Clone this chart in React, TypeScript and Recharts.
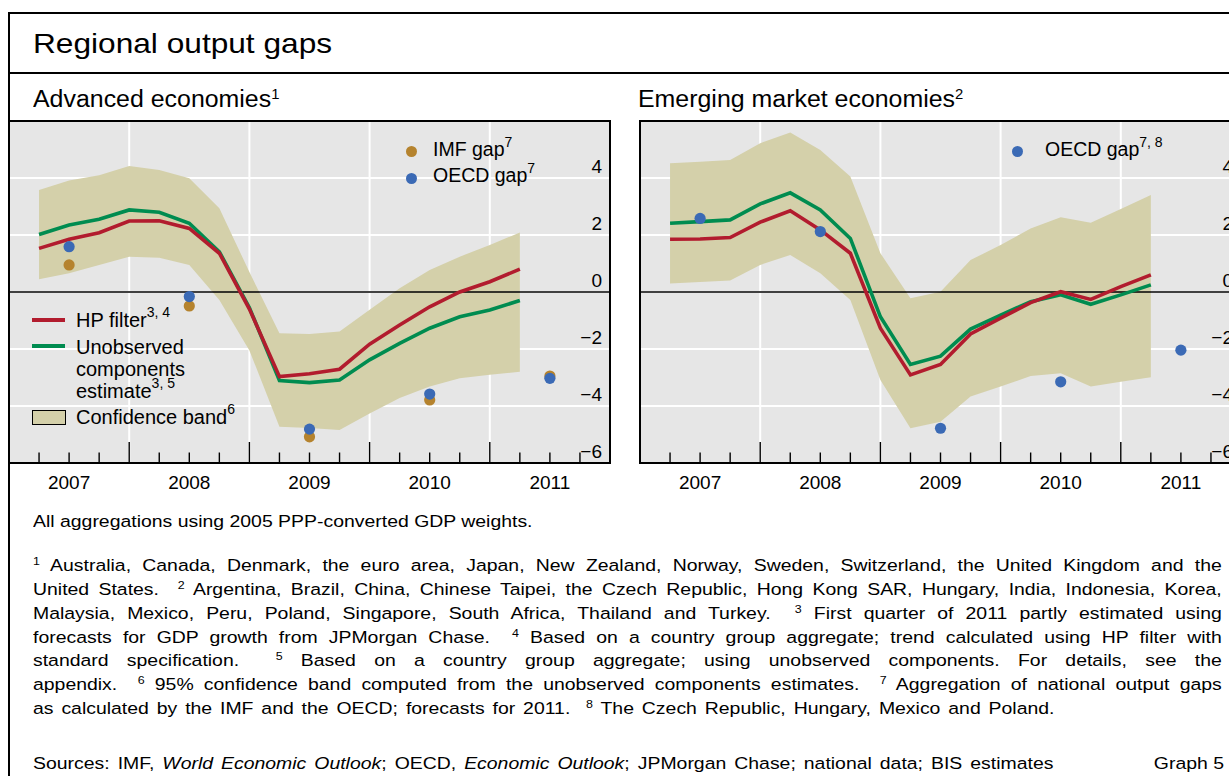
import React from "react";
import {
  ComposedChart,
  Area,
  Line,
  Scatter,
  XAxis,
  YAxis,
  CartesianGrid,
  ReferenceLine,
} from "recharts";

// ---------------- data ----------------
const quarters = [
  "2007Q1", "2007Q2", "2007Q3", "2007Q4",
  "2008Q1", "2008Q2", "2008Q3", "2008Q4",
  "2009Q1", "2009Q2", "2009Q3", "2009Q4",
  "2010Q1", "2010Q2", "2010Q3", "2010Q4",
  "2011Q1",
];
const years = [2007, 2008, 2009, 2010, 2011];

// Advanced economies
const aeHpFilter = [1.53, 1.85, 2.08, 2.49, 2.5, 2.23, 1.36, -0.6, -2.97, -2.87, -2.71, -1.83, -1.16, -0.52, 0.0, 0.36, 0.8];
const aeUnobserved = [2.02, 2.35, 2.55, 2.88, 2.8, 2.41, 1.41, -0.55, -3.11, -3.18, -3.09, -2.38, -1.8, -1.27, -0.87, -0.63, -0.3];
const aeBandLow = [0.45, 0.66, 0.95, 1.24, 1.2, 0.95, -0.28, -2.05, -4.73, -4.77, -4.84, -4.26, -3.72, -3.32, -3.03, -2.9, -2.8];
const aeBandHigh = [3.58, 3.91, 4.1, 4.42, 4.28, 3.99, 2.94, 0.7, -1.45, -1.47, -1.39, -0.62, 0.13, 0.77, 1.24, 1.65, 2.09];
const aeImfGap = [0.95, -0.49, -5.08, -3.79, -2.95];
const aeOecdGap = [1.59, -0.16, -4.81, -3.58, -3.03];

// Emerging market economies
const emeHpFilter = [1.85, 1.86, 1.91, 2.45, 2.85, 2.18, 1.36, -1.27, -2.91, -2.54, -1.47, -0.92, -0.37, 0.01, -0.26, 0.19, 0.6];
const emeUnobserved = [2.41, 2.47, 2.53, 3.09, 3.48, 2.88, 1.88, -0.87, -2.54, -2.25, -1.3, -0.81, -0.34, -0.1, -0.43, -0.1, 0.25];
const emeBandLow = [0.3, 0.35, 0.4, 0.95, 1.3, 0.66, -0.28, -3.09, -4.78, -4.55, -3.67, -3.32, -2.95, -2.85, -3.32, -3.15, -2.99];
const emeBandHigh = [4.52, 4.57, 4.63, 5.22, 5.6, 4.98, 4.05, 1.36, -0.22, 0.01, 1.12, 1.65, 2.23, 2.62, 2.43, 2.91, 3.4];
const emeOecdGap = [2.58, 2.12, -4.78, -3.15, -2.04];

const yTicks = [-6, -4, -2, 0, 2, 4];
const xDomain = [2007, 2012];

// ---------------- helpers ----------------
const toTime = (q: string) => Number(q.slice(0, 4)) + Number(q.slice(5)) / 4;
const xTicks = years.flatMap((y) => [y + 0.25, y + 0.5, y + 0.75, y + 1]).filter((v) => v < xDomain[1]);
const yearBoundaries = years.slice(1);

const buildRows = (hp: number[], uc: number[], lo: number[], hi: number[]) =>
  quarters.map((q, i) => ({ t: toTime(q), hp: hp[i], uc: uc[i], band: [lo[i], hi[i]] }));
const buildDots = (vals: number[]) => years.map((y, i) => ({ t: y + 0.5, v: vals[i] }));

const aeRows = buildRows(aeHpFilter, aeUnobserved, aeBandLow, aeBandHigh);
const emeRows = buildRows(emeHpFilter, emeUnobserved, emeBandLow, emeBandHigh);

// ---------------- styles ----------------
const FONT = '"Liberation Sans", Arial, Helvetica, sans-serif';
const GRID_BG = "#e6e6e6";
const BAND = "#d4d0aa";
const RED = "#b21c2e";
const GREEN = "#008c50";
const BLUE = "#3b6ab5";
const BROWN = "#b5832e";
const S = 1.13; // horizontal stretch of title / footnote text in the reference

const PLOT_W = 601;
const PLOT_H = 342;
const AXIS_H = 34;

const fmt = (v: number) => (v < 0 ? "\u2212" + Math.abs(v) : String(v));

const XTick = (props: any) => {
  const { x, y, payload } = props;
  const v = payload.value as number;
  const q = Math.round((v - Math.floor(v)) * 4);
  const len = q === 0 ? 21 : 10.5;
  return (
    <g>
      <line x1={x} x2={x} y1={y} y2={y - len} stroke="#000" strokeWidth={1.4} />
      {q === 2 && (
        <text x={x} y={y + 26} textAnchor="middle" fontSize={19} fontFamily={FONT} fill="#000">
          {Math.floor(v)}
        </text>
      )}
    </g>
  );
};

const YTick = (props: any) => {
  const { x, y, payload } = props;
  return (
    <text x={x} y={y - 5} textAnchor="end" fontSize={19} fontFamily={FONT} fill="#000">
      {fmt(payload.value)}
    </text>
  );
};

const dotShape = (color: string) => (p: any) => <circle cx={p.cx} cy={p.cy} r={5.6} fill={color} />;

type DotSeries = { key: string; color: string; data: { t: number; v: number }[] };

function Panel({ rows, dots }: { rows: any[]; dots: DotSeries[] }) {
  return (
    <ComposedChart
      width={PLOT_W}
      height={PLOT_H + AXIS_H}
      data={rows}
      margin={{ top: 0, right: 0, bottom: 0, left: 0 }}
    >
      <CartesianGrid vertical={false} stroke="#fff" strokeWidth={2} fill={GRID_BG} fillOpacity={1} />
      {yearBoundaries.map((b) => (
        <ReferenceLine key={b} x={b} stroke="#fff" strokeWidth={2} zIndex={-90} />
      ))}
      <XAxis
        dataKey="t"
        type="number"
        domain={xDomain}
        ticks={xTicks}
        interval={0}
        tickSize={0}
        tickMargin={0}
        tickLine={false}
        axisLine={false}
        tick={(p: any) => <XTick {...p} />}
        height={AXIS_H}
        allowDataOverflow
      />
      <YAxis
        type="number"
        domain={[-6, 6]}
        ticks={yTicks}
        interval={0}
        orientation="right"
        mirror
        axisLine={false}
        tickLine={false}
        tick={(p: any) => <YTick {...p} />}
        allowDataOverflow
      />
      <Area
        dataKey="band"
        type="linear"
        stroke="none"
        fill={BAND}
        fillOpacity={1}
        isAnimationActive={false}
        activeDot={false}
      />
      <ReferenceLine y={0} stroke="#000" strokeWidth={1.6} zIndex={150} />
      <Line
        dataKey="uc"
        type="linear"
        stroke={GREEN}
        strokeWidth={3.6}
        dot={false}
        activeDot={false}
        isAnimationActive={false}
      />
      <Line
        dataKey="hp"
        type="linear"
        stroke={RED}
        strokeWidth={3.6}
        dot={false}
        activeDot={false}
        isAnimationActive={false}
      />
      {dots.map((d) => (
        <Scatter
          key={d.key}
          data={d.data}
          dataKey="v"
          fill={d.color}
          shape={dotShape(d.color)}
          isAnimationActive={false}
        />
      ))}
    </ComposedChart>
  );
}

const Sup = ({ children, size = 14, raise = 9 }: any) => (
  <span style={{ fontSize: size, position: "relative", top: -raise, lineHeight: 1 }}>{children}</span>
);

const abs = (left: number, top: number, extra: any = {}): React.CSSProperties => ({
  position: "absolute",
  left,
  top,
  ...extra,
});

const FS = 17.2;
const footSup = (n: string) => <Sup size={11} raise={6}>{n}</Sup>;
const footLines: React.ReactNode[][] = [
  [footSup("1"), " Australia, Canada, Denmark, the euro area, Japan, New Zealand, Norway, Sweden, Switzerland, the United Kingdom and the"],
  ["United States.\u00a0\u00a0", footSup("2"), " Argentina, Brazil, China, Chinese Taipei, the Czech Republic, Hong Kong SAR, Hungary, India, Indonesia, Korea,"],
  ["Malaysia, Mexico, Peru, Poland, Singapore, South Africa, Thailand and Turkey.\u00a0\u00a0", footSup("3"), " First quarter of 2011 partly estimated using"],
  ["forecasts for GDP growth from JPMorgan Chase.\u00a0\u00a0", footSup("4"), " Based on a country group aggregate; trend calculated using HP filter with"],
  ["standard specification.\u00a0\u00a0", footSup("5"), " Based on a country group aggregate; using unobserved components. For details, see the"],
  ["appendix.\u00a0\u00a0", footSup("6"), " 95% confidence band computed from the unobserved components estimates.\u00a0\u00a0", footSup("7"), " Aggregation of national output gaps"],
  ["as calculated by the IMF and the OECD; forecasts for 2011.\u00a0\u00a0", footSup("8"), " The Czech Republic, Hungary, Mexico and Poland."],
];

const legendDot = (cx: number, cy: number, color: string) => (
  <div
    style={abs(cx - 5.6, cy - 5.6, {
      width: 11.2,
      height: 11.2,
      borderRadius: "50%",
      background: color,
    })}
  />
);

export default function App() {
  return (
    <div
      style={{
        position: "fixed",
        left: 0,
        top: 0,
        width: 1229,
        height: 776,
        overflow: "hidden",
        background: "#fff",
        fontFamily: FONT,
        color: "#000",
      }}
    >
      {/* outer frame */}
      <div style={abs(8, 12, { width: 1400, height: 1000, borderLeft: "2px solid #000", borderTop: "2px solid #000" })} />
      <div style={abs(8, 72, { width: 1400, height: 2, background: "#000" })} />

      {/* title */}
      <div
        style={abs(33, 29.6, {
          fontSize: 28,
          lineHeight: 1,
          whiteSpace: "nowrap",
          transform: `scaleX(${S})`,
          transformOrigin: "0 0",
        })}
      >
        Regional output gaps
      </div>

      {/* subtitles */}
      <div style={abs(33, 87.5, { fontSize: 23.5, lineHeight: 1, whiteSpace: "nowrap", transform: "scaleX(1.06)", transformOrigin: "0 0" })}>
        Advanced economies<Sup size={14} raise={8}>1</Sup>
      </div>
      <div style={abs(638, 88.2, { fontSize: 23.5, lineHeight: 1, whiteSpace: "nowrap", transform: "scaleX(1.06)", transformOrigin: "0 0" })}>
        Emerging market economies<Sup size={14} raise={8}>2</Sup>
      </div>

      {/* charts */}
      <div style={abs(9, 121)}>
        <Panel
          rows={aeRows}
          dots={[
            { key: "imf", color: BROWN, data: buildDots(aeImfGap) },
            { key: "oecd", color: BLUE, data: buildDots(aeOecdGap) },
          ]}
        />
      </div>
      <div style={abs(640, 121)}>
        <Panel rows={emeRows} dots={[{ key: "oecd", color: BLUE, data: buildDots(emeOecdGap) }]} />
      </div>

      {/* plot frames */}
      <div style={abs(8, 120, { width: 603, height: 344, border: "2px solid #000", boxSizing: "border-box" })} />
      <div style={abs(639, 120, { width: 603, height: 344, border: "2px solid #000", boxSizing: "border-box" })} />

      {/* legend: advanced economies */}
      {legendDot(411.7, 151.7, BROWN)}
      {legendDot(411.7, 178.3, BLUE)}
      <div style={abs(433, 140, { fontSize: 19.5, lineHeight: 1, whiteSpace: "nowrap" })}>
        IMF gap<Sup size={14} raise={9}>7</Sup>
      </div>
      <div style={abs(433, 166, { fontSize: 19.5, lineHeight: 1, whiteSpace: "nowrap" })}>
        OECD gap<Sup size={14} raise={9}>7</Sup>
      </div>

      <div style={abs(32, 318, { width: 33, height: 4, background: RED })} />
      <div style={abs(76, 309.8, { fontSize: 20, lineHeight: 1, whiteSpace: "nowrap" })}>
        HP filter<Sup size={14} raise={10}>3, 4</Sup>
      </div>
      <div style={abs(32, 344, { width: 33, height: 4, background: GREEN })} />
      <div style={abs(76, 336.6, { fontSize: 20, lineHeight: 1, whiteSpace: "nowrap" })}>Unobserved</div>
      <div style={abs(76, 358.6, { fontSize: 20, lineHeight: 1, whiteSpace: "nowrap" })}>components</div>
      <div style={abs(76, 380.6, { fontSize: 20, lineHeight: 1, whiteSpace: "nowrap" })}>
        estimate<Sup size={14} raise={10}>3, 5</Sup>
      </div>
      <div
        style={abs(31.5, 409.5, {
          width: 34,
          height: 15,
          background: BAND,
          border: "1.3px solid #000",
          boxSizing: "border-box",
        })}
      />
      <div style={abs(76, 407.4, { fontSize: 20, lineHeight: 1, whiteSpace: "nowrap" })}>
        Confidence band<Sup size={14} raise={10}>6</Sup>
      </div>

      {/* legend: emerging market economies */}
      {legendDot(1017.7, 151.7, BLUE)}
      <div style={abs(1045, 140.2, { fontSize: 19.5, lineHeight: 1, whiteSpace: "nowrap" })}>
        OECD gap<Sup size={14} raise={9}>7, 8</Sup>
      </div>

      {/* notes */}
      <div
        style={abs(33, 512.9, {
          fontSize: FS,
          lineHeight: 1,
          whiteSpace: "nowrap",
          transform: `scaleX(${S})`,
          transformOrigin: "0 0",
        })}
      >
        All aggregations using 2005 PPP-converted GDP weights.
      </div>
      <div
        style={abs(33, 554.4, {
          width: 1052,
          fontSize: FS,
          lineHeight: "23.7px",
          transform: `scaleX(${S})`,
          transformOrigin: "0 0",
        })}
      >
        {footLines.map((segs, i) => {
          const last = i === footLines.length - 1;
          return (
            <div
              key={i}
              style={{
                textAlign: last ? "left" : "justify",
                textAlignLast: last ? "left" : "justify",
                whiteSpace: "nowrap",
                wordSpacing: last ? 2.2 : 0,
              }}
            >
              {segs.map((s, j) => (
                <React.Fragment key={j}>{s}</React.Fragment>
              ))}
            </div>
          );
        })}
      </div>
      <div
        style={abs(33, 754.6, {
          width: 1054,
          fontSize: FS,
          lineHeight: 1,
          whiteSpace: "nowrap",
          display: "flex",
          justifyContent: "space-between",
          transform: `scaleX(${S})`,
          transformOrigin: "0 0",
        })}
      >
        <span style={{ wordSpacing: 2.3 }}>
          Sources: IMF, <i>World Economic Outlook</i>; OECD, <i>Economic Outlook</i>; JPMorgan Chase; national data; BIS
          estimates
        </span>
        <span>Graph 5</span>
      </div>
    </div>
  );
}
